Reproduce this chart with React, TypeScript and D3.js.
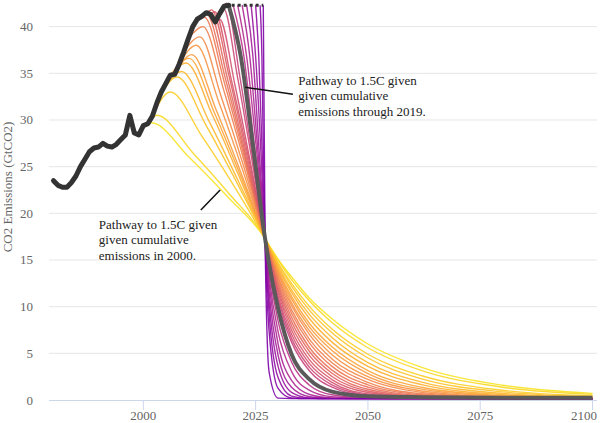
import React, { useEffect, useRef } from "react";
import * as d3 from "d3";

// historical emissions, GtCO2 (1980-2019)
const histYears = d3.range(1980, 2020);
const histEmissions = [
  23.5, 23.0, 22.8, 22.8, 23.3, 24.0, 25.0, 25.8, 26.6, 27.0,
  27.1, 27.5, 27.2, 27.1, 27.4, 27.9, 28.4, 30.5, 28.6, 28.4,
  29.4, 29.6, 30.4, 31.8, 33.0, 33.9, 34.8, 34.9, 36.0, 37.3,
  38.7, 40.0, 40.8, 41.1, 41.5, 41.3, 40.5, 41.4, 42.2, 42.3,
];

// emissions held flat after 2019
const holdLevel = 42.3;
const holdYears = [2019, 2026.7];

// pathways: start, peak, two mid points, common pivot, tail
const pathStartYears = [
  2000, 2001, 2002, 2003, 2004, 2005, 2006, 2007, 2008, 2009,
  2010, 2011, 2012, 2013, 2014, 2015, 2016, 2017, 2018, 2019,
  2020, 2021, 2022, 2023, 2024, 2025, 2026, 2026.7,
];
const pathStartValues = [
  29.4, 29.6, 30.4, 31.8, 33.0, 33.9, 34.8, 34.9, 36.0, 37.3,
  38.7, 40.0, 40.8, 41.1, 41.5, 41.3, 40.5, 41.4, 42.2, 42.3,
  42.3, 42.3, 42.3, 42.3, 42.3, 42.3, 42.3, 42.3,
];
const pathPeaks: ([number, number] | null)[] = [
  [2001.8, 29.7], [2003.0, 30.5], [2006.0, 33.0], [2007.5, 34.6], [2008.5, 35.2],
  [2009.5, 36.1], [2010.2, 36.6], [2010.8, 37.0], [2011.8, 38.0], [2012.6, 38.9],
  [2013.3, 40.0], [2013.6, 41.0], [2014.0, 41.4], [2014.6, 41.6], [2015.2, 41.8],
  [2015.9, 41.6], [2017.0, 40.8], [2017.9, 41.9], [2018.5, 42.5], null,
  null, null, null, null, null, null, null, null,
];
const pathMid1: ([number, number] | null)[] = [
  [2010.2, 26.0], [2011.0, 26.5], [2013.0, 28.3], [2014.0, 29.4], [2014.7, 29.8],
  [2015.4, 30.5], [2015.8, 30.8], [2016.2, 31.1], [2016.9, 31.8], [2017.4, 32.4],
  [2017.9, 33.2], [2018.1, 33.9], [2018.4, 34.2], [2018.8, 34.3], [2019.2, 34.45],
  [2019.6, 34.3], [2020.4, 33.75], [2021.0, 34.5], [2021.4, 34.9], [2021.7, 36.8],
  [2022.4, 36.8], [2023.0, 36.8], [2023.7, 36.8], [2024.4, 36.8], [2025.0, 36.8],
  [2025.7, 36.8], [2026.4, 36.8], null,
];
const pathMid2: ([number, number] | null)[] = [
  [2018.7, 21.8], [2019.1, 22.1], [2020.1, 23.0], [2020.6, 23.5], [2020.9, 23.7],
  [2021.2, 24.1], [2021.5, 24.2], [2021.7, 24.4], [2022.0, 24.8], [2022.3, 25.1],
  [2022.5, 25.5], [2022.6, 25.8], [2022.7, 26.0], [2022.9, 26.0], [2023.1, 26.1],
  [2023.4, 26.0], [2023.7, 25.8], [2024.0, 26.2], [2024.2, 26.4], [2024.4, 27.3],
  [2024.7, 27.3], [2025.1, 27.3], [2025.4, 27.3], [2025.7, 27.3], [2026.1, 27.3],
  [2026.4, 27.3], [2026.7, 27.3], null,
];
const pivot: [number, number] = [2027.1, 17.3];
const tailYears = [2028, 2030, 2033, 2037, 2042, 2050, 2062, 2080, 2100];
const pathTails = [
  [16.6, 15.1, 13.2, 10.9, 8.7, 6.0, 3.5, 1.58, 0.71],
  [16.5, 15.0, 12.9, 10.6, 8.3, 5.6, 3.15, 1.37, 0.6],
  [16.5, 14.7, 12.5, 10.0, 7.6, 4.9, 2.6, 1.04, 0.44],
  [16.4, 14.6, 12.2, 9.6, 7.2, 4.5, 2.26, 0.87, 0.37],
  [16.3, 14.35, 11.8, 9.15, 6.7, 4.0, 1.92, 0.7, 0.3],
  [16.25, 14.15, 11.5, 8.7, 6.2, 3.6, 1.64, 0.57, 0.25],
  [16.2, 13.9, 11.1, 8.2, 5.7, 3.15, 1.36, 0.46, 0.22],
  [16.1, 13.7, 10.8, 7.8, 5.3, 2.83, 1.16, 0.39, 0.2],
  [16.0, 13.5, 10.4, 7.4, 4.85, 2.5, 0.97, 0.32, 0.18],
  [15.9, 13.2, 10.1, 7.0, 4.4, 2.2, 0.82, 0.28, 0.17],
  [15.8, 13.0, 9.65, 6.5, 4.0, 1.88, 0.67, 0.24, 0.16],
  [15.7, 12.7, 9.3, 6.1, 3.6, 1.63, 0.56, 0.21, 0.16],
  [15.6, 12.4, 8.85, 5.6, 3.2, 1.38, 0.46, 0.19, 0.15],
  [15.5, 12.1, 8.4, 5.2, 2.86, 1.15, 0.38, 0.17, 0.15],
  [15.4, 11.8, 7.95, 4.75, 2.52, 0.97, 0.31, 0.17, 0.15],
  [15.2, 11.5, 7.5, 4.3, 2.19, 0.8, 0.27, 0.16, 0.15],
  [15.1, 11.1, 7.05, 3.9, 1.88, 0.65, 0.23, 0.16, 0.15],
  [14.9, 10.8, 6.6, 3.5, 1.62, 0.54, 0.2, 0.15, 0.15],
  [14.8, 10.4, 6.2, 3.1, 1.38, 0.45, 0.19, 0.15, 0.15],
  [14.6, 9.8, 4.9, 2.2, 0.9, 0.4, 0.3, 0.25, 0.25],
  [13.85, 8.45, 4.08, 1.59, 0.56, 0.21, 0.15, 0.15, 0.15],
  [13.2, 7.3, 3.07, 1.03, 0.35, 0.17, 0.15, 0.15, 0.15],
  [12.45, 6.0, 2.09, 0.59, 0.22, 0.15, 0.15, 0.15, 0.15],
  [11.6, 4.8, 1.36, 0.35, 0.17, 0.15, 0.15, 0.15, 0.15],
  [10.6, 3.6, 0.82, 0.22, 0.15, 0.15, 0.15, 0.15, 0.15],
  [9.3, 2.4, 0.42, 0.17, 0.15, 0.15, 0.15, 0.15, 0.15],
  [7.4, 1.24, 0.21, 0.15, 0.15, 0.15, 0.15, 0.15, 0.15],
  [3.0, 0.2, 0.15, 0.15, 0.15, 0.15, 0.15, 0.15, 0.15],
];
const highlightIndex = 19; // cumulative emissions through 2019

const xTicks = [2000, 2025, 2050, 2075, 2100];
const yTicks = [0, 5, 10, 15, 20, 25, 30, 35, 40];

const notes = [
  {
    lines: ["Pathway to 1.5C given", "given cumulative", "emissions through 2019."],
    from: [2022.7, 33.5], to: [2033.3, 32.75], textAt: [2034.5, 33.75],
  },
  {
    lines: ["Pathway to 1.5C given", "given cumulative", "emissions in 2000."],
    from: [2017.1, 22.5], to: [2012.8, 20.36], textAt: [1990.1, 18.34],
  },
];

const W = 600;
const H = 423;
const margin = { top: 5, right: 3, bottom: 23, left: 49 };
const font = "'Liberation Serif', 'Times New Roman', serif";

const App = () => {
  const ref = useRef<SVGSVGElement>(null);

  useEffect(() => {
    const svg = d3.select(ref.current);
    svg.selectAll("*").remove();

    const x = d3.scaleLinear().domain([1979, 2101]).range([margin.left, W - margin.right]);
    const y = d3.scaleLinear().domain([0, 42.32]).range([H - margin.bottom, margin.top]);

    // grid
    svg.append("g")
      .selectAll("line")
      .data(yTicks.filter((d) => d > 0))
      .enter()
      .append("line")
      .attr("x1", x(1979))
      .attr("x2", x(2101))
      .attr("y1", (d) => y(d))
      .attr("y2", (d) => y(d))
      .attr("stroke", "#e6e6e6")
      .attr("stroke-width", 1);

    // y labels
    svg.append("g")
      .selectAll("text")
      .data(yTicks)
      .enter()
      .append("text")
      .attr("x", margin.left - 16)
      .attr("y", (d) => y(d) + 4.5)
      .attr("text-anchor", "end")
      .attr("font-family", font)
      .attr("font-size", 13)
      .attr("fill", "#666")
      .text((d) => d);

    svg.append("text")
      .attr("transform", `translate(7, 187) rotate(-90)`)
      .attr("text-anchor", "middle")
      .attr("dominant-baseline", "central")
      .attr("font-family", font)
      .attr("font-size", 13)
      .attr("fill", "#666")
      .text("CO2 Emissions (GtCO2)");

    // x axis
    svg.append("line")
      .attr("x1", x(1979))
      .attr("x2", x(2101))
      .attr("y1", y(0) + 0.5)
      .attr("y2", y(0) + 0.5)
      .attr("stroke", "#ccd6eb");

    const xg = svg.append("g");
    xg.selectAll("line")
      .data(xTicks)
      .enter()
      .append("line")
      .attr("x1", (d) => x(d))
      .attr("x2", (d) => x(d))
      .attr("y1", y(0))
      .attr("y2", y(0) + 10)
      .attr("stroke", "#ccd6eb");
    // last label is pulled inside the plot edge
    xg.selectAll("text")
      .data(xTicks)
      .enter()
      .append("text")
      .attr("x", (d, i) => (i === xTicks.length - 1 ? x(2101) : x(d)))
      .attr("y", y(0) + 20)
      .attr("text-anchor", (d, i) => (i === xTicks.length - 1 ? "end" : "middle"))
      .attr("font-family", font)
      .attr("font-size", 13)
      .attr("fill", "#666")
      .text((d) => d);

    // pathways
    const line = d3.line<number[]>()
      .x((d) => x(d[0]))
      .y((d) => y(d[1]))
      .curve(d3.curveMonotoneX);

    const paths = pathStartYears.map((s, i) => {
      const pts: number[][] = [[s, pathStartValues[i]]];
      if (pathPeaks[i]) pts.push(pathPeaks[i] as number[]);
      if (pathMid1[i]) pts.push(pathMid1[i] as number[]);
      if (pathMid2[i]) pts.push(pathMid2[i] as number[]);
      pts.push(pivot);
      tailYears.forEach((t, j) => pts.push([t, pathTails[i][j]]));
      return pts;
    });

    const color = d3.scaleLinear<number>().domain([0, paths.length - 1]).range([0.95, 0.25]);

    svg.append("g")
      .selectAll("path")
      .data(paths.filter((_, i) => i !== highlightIndex))
      .enter()
      .append("path")
      .attr("d", (d) => line(d))
      .attr("fill", "none")
      .attr("stroke", (d) => d3.interpolatePlasma(color(paths.indexOf(d))))
      .attr("stroke-width", 1.4)
      .attr("stroke-opacity", 0.9);

    svg.append("path")
      .attr("d", line(paths[highlightIndex]))
      .attr("fill", "none")
      .attr("stroke", "#5a5a5a")
      .attr("stroke-width", 4);

    // history
    const histLine = d3.line<number>()
      .x((_, i) => x(histYears[i]))
      .y((d) => y(d));

    svg.append("path")
      .attr("d", histLine(histEmissions))
      .attr("fill", "none")
      .attr("stroke", "#333")
      .attr("stroke-width", 5)
      .attr("stroke-linejoin", "round")
      .attr("stroke-linecap", "round");

    svg.append("line")
      .attr("x1", x(holdYears[0]) + 3)
      .attr("x2", x(holdYears[1]))
      .attr("y1", y(holdLevel))
      .attr("y2", y(holdLevel))
      .attr("stroke", "#333")
      .attr("stroke-width", 3)
      .attr("stroke-dasharray", "3,3");

    // annotations
    notes.forEach((n) => {
      svg.append("line")
        .attr("x1", x(n.from[0]))
        .attr("y1", y(n.from[1]))
        .attr("x2", x(n.to[0]))
        .attr("y2", y(n.to[1]))
        .attr("stroke", "#111")
        .attr("stroke-width", 1.5);
      const t = svg.append("text")
        .attr("font-family", font)
        .attr("font-size", 13)
        .attr("fill", "#222");
      n.lines.forEach((l, k) => {
        t.append("tspan")
          .attr("x", x(n.textAt[0]))
          .attr("y", y(n.textAt[1]) + k * 15.5)
          .text(l);
      });
    });
  }, []);

  return (
    <svg
      ref={ref}
      width={W}
      height={H}
      style={{ position: "absolute", left: 0, top: 0, background: "#fff" }}
    />
  );
};

export default App;
